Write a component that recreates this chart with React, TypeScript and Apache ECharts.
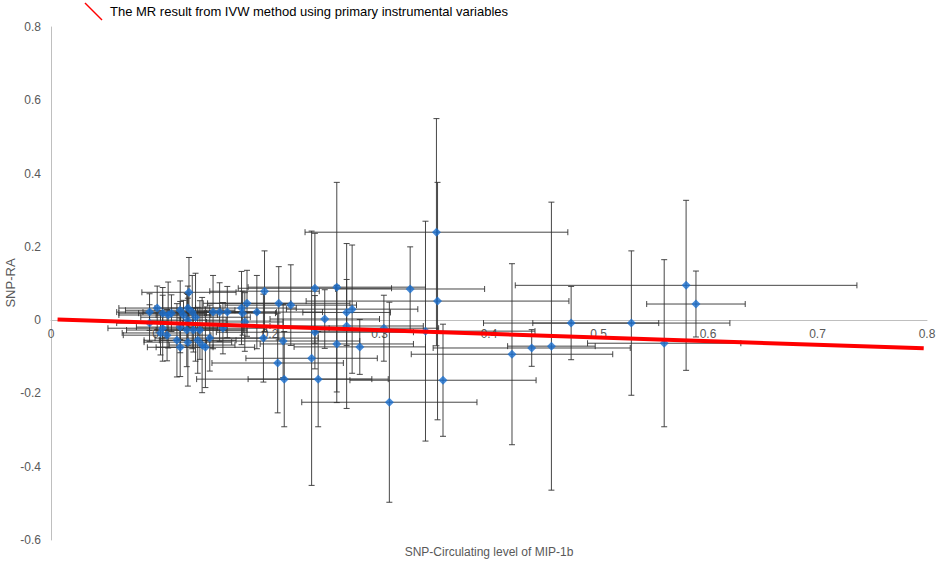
import React, { useEffect, useRef } from "react";
import * as echarts from "echarts";

// SNP effect on circulating MIP-1b (x) and on RA (y), with symmetric error half-widths
const snpX = [
  0.126, 0.090, 0.097, 0.102, 0.110, 0.118, 0.125, 0.129, 0.121, 0.107,
  0.125, 0.132, 0.090, 0.118, 0.124, 0.130, 0.136, 0.102, 0.100, 0.106,
  0.115, 0.125, 0.134, 0.138, 0.141, 0.118, 0.145, 0.148, 0.154, 0.161,
  0.174, 0.179, 0.175, 0.188, 0.195, 0.208, 0.219, 0.194, 0.212, 0.207,
  0.213, 0.177, 0.157, 0.241, 0.261, 0.275, 0.270, 0.250, 0.270, 0.241,
  0.304, 0.342, 0.261, 0.282, 0.238, 0.244, 0.358, 0.309, 0.328, 0.352,
  0.353, 0.580, 0.589, 0.530, 0.475, 0.560, 0.457, 0.439, 0.421,
];
const snpY = [
  0.076, 0.022, 0.033, 0.019, 0.019, 0.027, 0.033, 0.022, 0.014, 0.014,
  0.000, 0.008, -0.008, -0.019, -0.027, -0.027, -0.027, -0.022, -0.035, -0.041,
  -0.055, -0.060, -0.055, -0.068, -0.074, -0.074, -0.049, 0.022, 0.022, 0.022,
  0.033, 0.046, 0.019, 0.022, 0.079, 0.046, 0.041, -0.049, -0.057, -0.117,
  -0.161, -0.005, -0.022, 0.087, 0.090, 0.030, 0.021, 0.003, -0.016, -0.033,
  -0.022, -0.030, -0.065, -0.073, -0.104, -0.161, -0.164, -0.224, 0.085, 0.240,
  0.052, 0.095, 0.044, -0.008, -0.008, -0.063, -0.071, -0.076, -0.093,
];
const snpXErr = [
  0.043, 0.030, 0.035, 0.040, 0.030, 0.050, 0.030, 0.045, 0.025, 0.045,
  0.035, 0.050, 0.030, 0.040, 0.055, 0.030, 0.040, 0.050, 0.035, 0.040,
  0.030, 0.040, 0.035, 0.030, 0.045, 0.030, 0.050, 0.040, 0.035, 0.045,
  0.050, 0.040, 0.030, 0.060, 0.050, 0.065, 0.060, 0.050, 0.070, 0.060,
  0.080, 0.035, 0.040, 0.070, 0.081, 0.060, 0.040, 0.050, 0.070, 0.090,
  0.050, 0.100, 0.070, 0.060, 0.060, 0.064, 0.085, 0.080, 0.068, 0.120,
  0.120, 0.156, 0.045, 0.090, 0.080, 0.070, 0.040, 0.090, 0.092,
];
const snpYErr = [
  0.095, 0.050, 0.060, 0.070, 0.050, 0.080, 0.060, 0.100, 0.040, 0.090,
  0.070, 0.120, 0.050, 0.070, 0.100, 0.060, 0.080, 0.090, 0.060, 0.070,
  0.100, 0.120, 0.090, 0.130, 0.110, 0.080, 0.090, 0.100, 0.080, 0.070,
  0.100, 0.090, 0.060, 0.100, 0.110, 0.100, 0.110, 0.120, 0.100, 0.136,
  0.130, 0.080, 0.070, 0.150, 0.286, 0.175, 0.090, 0.080, 0.225, 0.100,
  0.090, 0.300, 0.160, 0.075, 0.347, 0.130, 0.153, 0.273, 0.115, 0.310,
  0.324, 0.232, 0.090, 0.197, 0.100, 0.228, 0.393, 0.050, 0.247,
];

// IVW fitted line end points
const ivwX = [0.006, 0.797];
const ivwY = [0.002, -0.077];

const xTicks = { min: 0, max: 0.8, interval: 0.1 };
const yTicks = { min: -0.6, max: 0.8, interval: 0.2 };

const legendText = "The MR result from IVW method using primary instrumental variables";
const xAxisTitle = "SNP-Circulating level of MIP-1b";
const yAxisTitle = "SNP-RA";

export default function App() {
  const ref = useRef<HTMLDivElement>(null);

  useEffect(() => {
    if (!ref.current) return;
    const chart = echarts.init(ref.current, undefined, { renderer: "svg" });
    const points = snpX.map((x, i) => [x, snpY[i], snpXErr[i], snpYErr[i]]);
    const font = "'Liberation Sans', Arial, sans-serif";
    const labelColor = "#595959";
    const axisColor = "#bfbfbf";
    const gridTop = 27;
    const gridBottom = 21;
    const plotH = 561 - gridTop - gridBottom;
    // move the x axis (line + labels) up to the y = 0 level
    const zeroOffset = -((0 - yTicks.min) / (yTicks.max - yTicks.min)) * plotH;

    chart.setOption({
      animation: false,
      backgroundColor: "#ffffff",
      grid: { left: 51, right: 14, top: gridTop, bottom: gridBottom, containLabel: false },
      xAxis: {
        type: "value",
        min: xTicks.min,
        max: xTicks.max,
        interval: xTicks.interval,
        offset: zeroOffset,
        axisLine: { show: true, onZero: false, lineStyle: { color: axisColor, width: 1 } },
        axisTick: { show: false },
        splitLine: { show: false },
        axisLabel: { color: labelColor, fontSize: 12, fontFamily: font, margin: 8 },
      },
      yAxis: {
        type: "value",
        min: yTicks.min,
        max: yTicks.max,
        interval: yTicks.interval,
        axisLine: { show: true, onZero: false, lineStyle: { color: axisColor, width: 1 } },
        axisTick: { show: false },
        splitLine: { show: false },
        axisLabel: { color: labelColor, fontSize: 12, fontFamily: font, margin: 10 },
      },
      series: [
        {
          type: "custom",
          name: "errors",
          data: points,
          z: 2,
          renderItem: (params: any, api: any) => {
            const x = api.value(0);
            const y = api.value(1);
            const xe = api.value(2);
            const ye = api.value(3);
            const l = api.coord([x - xe, y]);
            const r = api.coord([x + xe, y]);
            const t = api.coord([x, y + ye]);
            const b = api.coord([x, y - ye]);
            const cap = 3;
            const style = { stroke: "#333333", lineWidth: 1, opacity: 0.9 };
            const mk = (x1: number, y1: number, x2: number, y2: number) => ({
              type: "line",
              shape: { x1, y1, x2, y2 },
              style,
            });
            return {
              type: "group",
              children: [
                mk(l[0], l[1], r[0], r[1]),
                mk(l[0], l[1] - cap, l[0], l[1] + cap),
                mk(r[0], r[1] - cap, r[0], r[1] + cap),
                mk(t[0], t[1], b[0], b[1]),
                mk(t[0] - cap, t[1], t[0] + cap, t[1]),
                mk(b[0] - cap, b[1], b[0] + cap, b[1]),
              ],
            };
          },
        },
        {
          type: "scatter",
          name: "SNPs",
          data: points.map((p) => [p[0], p[1]]),
          symbol: "diamond",
          symbolSize: 9,
          itemStyle: { color: "#1a6fd0" },
          z: 3,
        },
        {
          type: "line",
          name: "IVW",
          data: ivwX.map((x, i) => [x, ivwY[i]]),
          symbol: "none",
          lineStyle: { color: "#ff0000", width: 4 },
          z: 4,
        },
      ],
      graphic: [
        {
          type: "line",
          shape: { x1: 85, y1: 3, x2: 102, y2: 20 },
          style: { stroke: "#ff0000", lineWidth: 1.5 },
        },
        {
          type: "text",
          x: 110,
          y: 11,
          style: {
            text: legendText,
            fontSize: 13,
            fontFamily: font,
            fill: "#000000",
            verticalAlign: "middle",
          },
        },
        {
          type: "text",
          x: 489,
          y: 552,
          style: {
            text: xAxisTitle,
            fontSize: 12,
            fontFamily: font,
            fill: labelColor,
            align: "center",
            verticalAlign: "middle",
          },
        },
        {
          type: "text",
          x: 10,
          y: 283,
          rotation: Math.PI / 2,
          style: {
            text: yAxisTitle,
            fontSize: 13,
            fontFamily: font,
            fill: labelColor,
            align: "center",
            verticalAlign: "middle",
          },
        },
      ],
    });
    return () => chart.dispose();
  }, []);

  return (
    <div
      ref={ref}
      style={{ position: "fixed", left: 0, top: 0, width: 941, height: 561 }}
    />
  );
}
